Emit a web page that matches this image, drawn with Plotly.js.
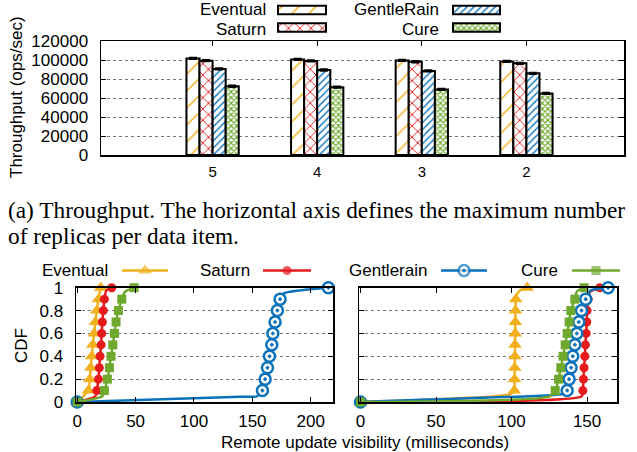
<!DOCTYPE html>
<html>
<head>
<meta charset="utf-8">
<script src="https://cdn.plot.ly/plotly-3.0.1.min.js"></script>
<style>html,body{margin:0;padding:0;background:#fff;}#chart{width:637px;height:452px;}</style>
</head>
<body>
<div id="chart"></div>
<script>
// ---------- DATA ----------
const categories = ['5', '4', '3', '2'];
const seriesNames = ['Eventual', 'Saturn', 'GentleRain', 'Cure'];
const thrEventual   = [101700, 100600, 99600, 98500];
const thrSaturn     = [99300, 99000, 98200, 96500];
const thrGentleRain = [90600, 89500, 88500, 86000];
const thrCure       = [72400, 71400, 69000, 64800];
const thrErr        = [700, 700, 700, 700];

const cdfNames = ['Eventual', 'Saturn', 'Gentlerain', 'Cure'];
const cdfLevels = [0, 0.1, 0.2, 0.3, 0.4, 0.5, 0.6, 0.7, 0.8, 0.9, 1.0];
const leftEventual   = [0, 9.6, 10.8, 11.6, 12.5, 13.4, 14.5, 15.6, 16.8, 18.2, 20.2];
const leftSaturn     = [0, 16.8, 18.2, 19.0, 19.6, 20.5, 21.0, 21.6, 22.4, 23.3, 29.6];
const leftGentlerain = [0, 158.6, 160.9, 162.9, 164.6, 166.6, 167.5, 169.4, 171.4, 173.7, 215.0];
const leftCure       = [0, 23.3, 25.9, 27.6, 29.0, 30.5, 31.9, 33.3, 35.3, 38.2, 48.7];
const rightEventual   = [0, 101.8, 102.0, 102.1, 102.2, 102.3, 102.4, 102.5, 102.6, 102.8, 110.3];
const rightSaturn     = [0, 147.2, 147.6, 148.0, 148.5, 148.9, 149.4, 149.8, 150.0, 150.7, 158.4];
const rightGentlerain = [0, 136.8, 138.1, 139.4, 140.5, 141.9, 143.2, 144.5, 146.3, 149.1, 163.9];
const rightCure       = [0, 128.9, 131.1, 132.6, 134.1, 135.5, 136.8, 138.1, 139.2, 141.9, 148.0];

// unmarked samples on the curves
const leftEventualBendX = [], leftEventualBendY = [];
const leftSaturnBendX = [15.5, 25.0], leftSaturnBendY = [0.05, 0.975];
const leftGentlerainBendX = [139.6, 154.0, 176.5], leftGentlerainBendY = [0.046, 0.05, 0.95];
const leftCureBendX = [21.5, 41.0], leftCureBendY = [0.05, 0.965];
const rightEventualBendX = [99.5, 105.0], rightEventualBendY = [0.07, 0.97];
const rightSaturnBendX = [146.5, 152.0], rightSaturnBendY = [0.05, 0.965];
const rightGentlerainBendX = [125.3, 135.2, 152.2], rightGentlerainBendY = [0.06, 0.073, 0.975];
const rightCureBendX = [125.3, 143.4], rightCureBendY = [0.05, 0.97];

// ---------- STYLES ----------
const W = 637, H = 452;
const px = v => v / W, py = v => 1 - v / H;
const FONT = 'Liberation Sans, Arial, sans-serif';
const barStyles = [
  {pattern: {shape: '/', fgcolor: '#F2B01E', bgcolor: '#ffffff', size: 12, solidity: 0.12}},
  {pattern: {shape: 'x', fgcolor: '#E41A1C', bgcolor: '#ffffff', size: 8, solidity: 0.22}},
  {pattern: {shape: '/', fgcolor: '#1F7FC4', bgcolor: '#ffffff', size: 5, solidity: 0.3}},
  {pattern: {shape: 'x', fgcolor: '#6FAA2E', bgcolor: '#ffffff', size: 4, solidity: 0.5}}
];
const lineStyles = [
  {color: '#F2B01E', symbol: 'triangle-up', size: 12, fill: '#F2B01E', lw: 0},
  {color: '#E41A1C', symbol: 'circle', size: 9, fill: '#E41A1C', lw: 0},
  {color: '#0A72BA', symbol: 'circle-dot', size: 11, fill: '#ffffff', lw: 2.5},
  {color: '#6FAA2E', symbol: 'square', size: 9, fill: '#6FAA2E', lw: 0}
];

const traces = [];
const thrSeries = [thrEventual, thrSaturn, thrGentleRain, thrCure];
const xIdx = categories.map((c, i) => i);
const barW = 0.125;
thrSeries.forEach((vals, s) => {
  traces.push({
    type: 'bar', x: xIdx, y: vals, xaxis: 'x', yaxis: 'y',
    width: barW, offset: -2 * barW + s * barW,
    marker: {color: '#ffffff', pattern: barStyles[s].pattern, line: {color: '#000', width: 2}},
    error_y: {type: 'data', array: thrErr, visible: true, color: '#000', thickness: 2, width: 4},
    name: seriesNames[s], hoverinfo: 'skip'
  });
});

function mergeCurve(xs, bx, by) {
  const pts = xs.map((x, i) => [x, cdfLevels[i]]).concat(bx.map((x, i) => [x, by[i]]));
  pts.sort((a, b) => (a[1] - b[1]) || (a[0] - b[0]));
  return {x: pts.map(p => p[0]), y: pts.map(p => p[1])};
}
function cdfTraces(xs, bx, by, s, xa, ya) {
  const st = lineStyles[s];
  const c = mergeCurve(xs, bx, by);
  return [{
    type: 'scatter', mode: 'lines', x: c.x, y: c.y, xaxis: xa, yaxis: ya,
    line: {color: st.color, width: 2.5, shape: 'spline', smoothing: 0.6},
    cliponaxis: false, hoverinfo: 'skip'
  }, {
    type: 'scatter', mode: 'markers', x: xs, y: cdfLevels, xaxis: xa, yaxis: ya,
    marker: {symbol: st.symbol, size: st.size, color: st.fill, line: {color: st.color, width: st.lw}},
    cliponaxis: false, name: cdfNames[s], hoverinfo: 'skip'
  }];
}
const leftSets = [[leftEventual, leftEventualBendX, leftEventualBendY], [leftSaturn, leftSaturnBendX, leftSaturnBendY],
  [leftGentlerain, leftGentlerainBendX, leftGentlerainBendY], [leftCure, leftCureBendX, leftCureBendY]];
const rightSets = [[rightEventual, rightEventualBendX, rightEventualBendY], [rightSaturn, rightSaturnBendX, rightSaturnBendY],
  [rightGentlerain, rightGentlerainBendX, rightGentlerainBendY], [rightCure, rightCureBendX, rightCureBendY]];
leftSets.forEach((d, s) => cdfTraces(d[0], d[1], d[2], s, 'x2', 'y2').forEach(t => traces.push(t)));
rightSets.forEach((d, s) => cdfTraces(d[0], d[1], d[2], s, 'x3', 'y3').forEach(t => traces.push(t)));

// ---------- LEGEND GLYPHS (layout helper, pixel space) ----------
const topLegend = [
  {text: 'Eventual', tx: 268, ty: 8.6, y: 10, bx: 278, bw: 48},
  {text: 'Saturn', tx: 268, ty: 28.6, y: 27.5, bx: 278, bw: 48},
  {text: 'GentleRain', tx: 441, ty: 8.6, y: 10, bx: 453, bw: 47},
  {text: 'Cure', tx: 441, ty: 28.6, y: 27.5, bx: 453, bw: 47}
];
topLegend.forEach((l, s) => {
  traces.push({
    type: 'bar', orientation: 'h', xaxis: 'x4', yaxis: 'y4',
    base: [l.bx], x: [l.bw], y: [l.y], width: 8.5,
    marker: {color: '#fff', pattern: barStyles[s].pattern, line: {color: '#000', width: 2}},
    hoverinfo: 'skip'
  });
});
const botLegend = [
  {text: 'Eventual', tx: 110, x1: 122, x2: 168},
  {text: 'Saturn', tx: 252, x1: 263, x2: 311},
  {text: 'Gentlerain', tx: 429, x1: 441, x2: 487},
  {text: 'Cure', tx: 560, x1: 572, x2: 620}
];
const botLegY = 270.5;
botLegend.forEach((l, s) => {
  const st = lineStyles[s];
  traces.push({
    type: 'scatter', mode: 'lines+markers', xaxis: 'x4', yaxis: 'y4',
    x: [l.x1, (l.x1 + l.x2) / 2, l.x2], y: [botLegY, botLegY, botLegY],
    line: {color: st.color, width: 2.5},
    marker: {symbol: st.symbol, size: [0, st.size, 0], color: st.fill, line: {color: st.color, width: [0, st.lw, 0]}},
    hoverinfo: 'skip', cliponaxis: false
  });
});

const annotations = [];
topLegend.forEach(l => annotations.push({xref: 'paper', yref: 'paper', x: px(l.tx), y: py(l.ty), xanchor: 'right', yanchor: 'middle', height: 16, valign: 'middle', text: l.text, showarrow: false, font: {family: FONT, size: 17, color: '#000'}}));
botLegend.forEach(l => annotations.push({xref: 'paper', yref: 'paper', x: px(l.tx), y: py(botLegY), xanchor: 'right', yanchor: 'middle', text: l.text, showarrow: false, font: {family: FONT, size: 17, color: '#000'}}));
annotations.push({xref: 'paper', yref: 'paper', x: px(17), y: py(97), textangle: -90, xanchor: 'center', yanchor: 'middle', text: 'Throughput (ops/sec)', showarrow: false, font: {family: FONT, size: 17, color: '#000'}});
annotations.push({xref: 'paper', yref: 'paper', x: px(21), y: py(346), textangle: -90, xanchor: 'center', yanchor: 'middle', text: 'CDF', showarrow: false, font: {family: FONT, size: 17, color: '#000'}});
annotations.push({xref: 'paper', yref: 'paper', x: px(365), y: py(442), xanchor: 'center', yanchor: 'middle', text: 'Remote update visibility (milliseconds)', showarrow: false, font: {family: FONT, size: 17, color: '#000'}});
annotations.push({xref: 'paper', yref: 'paper', x: px(6), y: py(210), xanchor: 'left', yanchor: 'middle', text: '(a) Throughput. The horizontal axis defines the maximum number', showarrow: false, font: {family: 'Liberation Serif, Times New Roman, serif', size: 23.3, color: '#000'}});
annotations.push({xref: 'paper', yref: 'paper', x: px(6), y: py(236), xanchor: 'left', yanchor: 'middle', text: 'of replicas per data item.', showarrow: false, font: {family: 'Liberation Serif, Times New Roman, serif', size: 23.3, color: '#000'}});

const frame = {showline: true, linecolor: '#000', linewidth: 1.5, mirror: 'ticks', ticks: 'inside', ticklen: 5, tickcolor: '#000', zeroline: false, fixedrange: true};
const grid = {showgrid: true, gridcolor: '#777', griddash: 'dot', gridwidth: 1};

const layout = {
  width: W, height: H, margin: {l: 0, r: 0, t: 0, b: 0},
  paper_bgcolor: '#fff', plot_bgcolor: 'rgba(0,0,0,0)', showlegend: false, barmode: 'overlay',
  font: {family: FONT, size: 17, color: '#000'},
  xaxis: Object.assign({}, frame, {domain: [px(101), px(624)], anchor: 'y', range: [-1.067, 3.933],
    tickvals: xIdx, ticktext: categories, showgrid: false, tickfont: {size: 15}, ticklabelstandoff: 2}),
  yaxis: Object.assign({}, frame, grid, {domain: [py(155), py(41)], anchor: 'x', range: [0, 120000], dtick: 20000, tick0: 0,
    tickformat: 'd', tickfont: {size: 17}, ticklabelstandoff: 8}),
  xaxis2: Object.assign({}, frame, {domain: [px(76), px(333)], anchor: 'y2', range: [-1, 219], dtick: 50, tick0: 0,
    showgrid: false, tickfont: {size: 17}, ticklabelstandoff: 3}),
  yaxis2: Object.assign({}, frame, grid, {domain: [py(402), py(287.7)], anchor: 'x2', range: [0, 1], dtick: 0.2, tick0: 0,
    tickfont: {size: 17}, ticklabelstandoff: 8}),
  xaxis3: Object.assign({}, frame, {domain: [px(359.3), px(617.3)], anchor: 'y3', range: [-0.8, 170], dtick: 50, tick0: 0,
    showgrid: false, tickfont: {size: 17}, ticklabelstandoff: 3}),
  yaxis3: Object.assign({}, frame, grid, {domain: [py(402), py(287.7)], anchor: 'x3', range: [0, 1], dtick: 0.2, tick0: 0,
    showticklabels: false}),
  xaxis4: {domain: [0, 1], anchor: 'y4', range: [0, W], visible: false, fixedrange: true},
  yaxis4: {domain: [0, 1], anchor: 'x4', range: [H, 0], visible: false, fixedrange: true},
  annotations: annotations
};

Plotly.newPlot('chart', traces, layout, {staticPlot: true, displayModeBar: false});
</script>
</body>
</html>
